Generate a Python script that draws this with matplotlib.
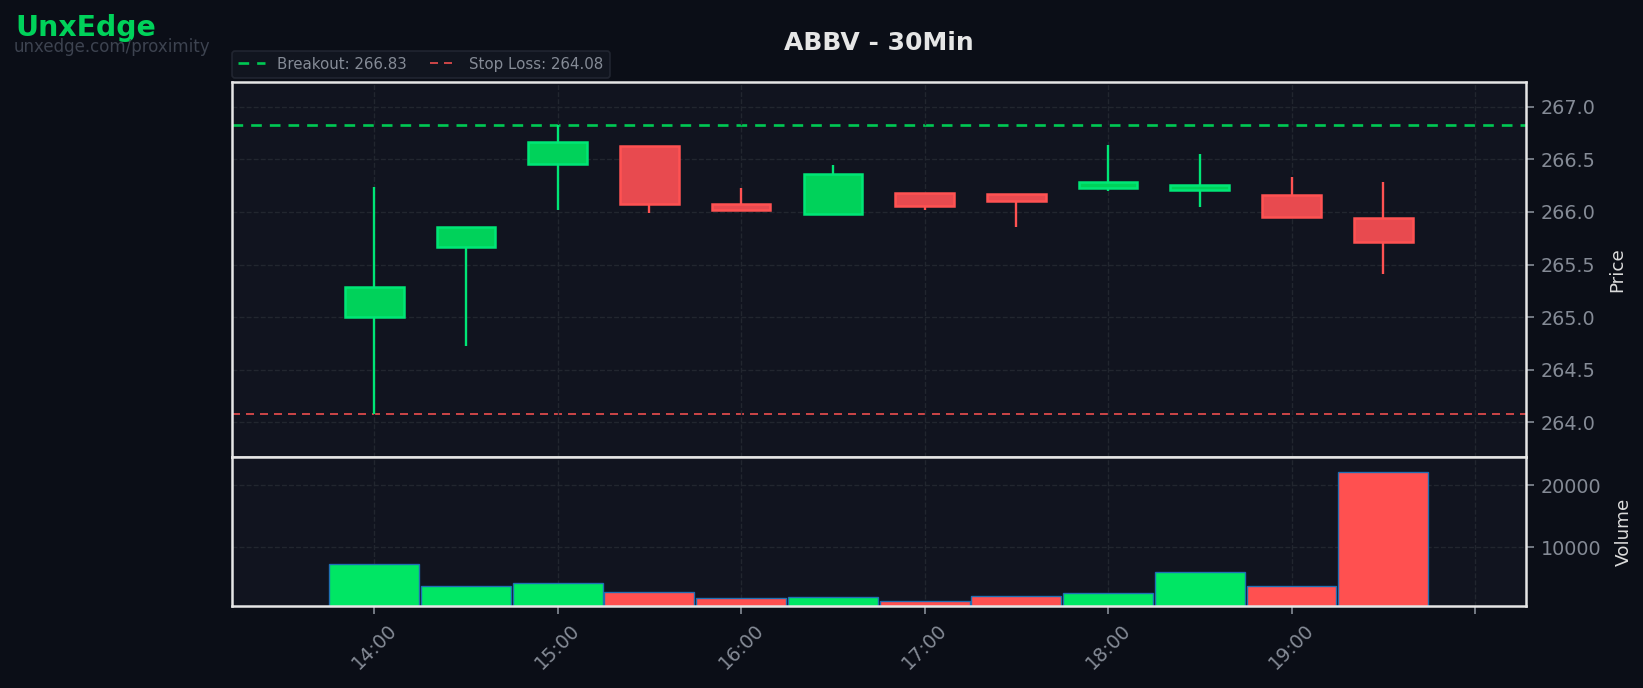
import numpy as np
import matplotlib.pyplot as plt
from matplotlib.patches import Rectangle

# === Data ===
symbol = 'ABBV'
timeframe = '30Min'
times = ['14:00', '14:30', '15:00', '15:30', '16:00', '16:30',
         '17:00', '17:30', '18:00', '18:30', '19:00', '19:30']
opens = [265.00, 265.67, 266.46, 266.63, 266.08, 265.98,
         266.18, 266.17, 266.23, 266.21, 266.165, 265.945]
highs = [266.24, 265.86, 266.83, 266.63, 266.23, 266.45,
         266.18, 266.17, 266.64, 266.55, 266.33, 266.28]
lows = [264.08, 264.73, 266.02, 265.99, 266.01, 265.98,
        266.02, 265.86, 266.20, 266.05, 265.95, 265.41]
closes = [265.29, 265.86, 266.66, 266.08, 266.02, 266.36,
          266.06, 266.10, 266.28, 266.26, 265.95, 265.715]
volumes = [7370, 3660, 4300, 2690, 1720, 1880,
           1240, 2040, 2530, 6075, 3660, 22200]
breakout = 266.83
stop_loss = 264.08
tick_hours = ['14:00', '15:00', '16:00', '17:00', '18:00', '19:00', '20:00']
tick_labels = ['14:00', '15:00', '16:00', '17:00', '18:00', '19:00', '']

BG = '#0b0e17'
PANEL = '#11141f'
GRID = '#22262f'
TXT = '#858b96'
UP_FILL, UP_EDGE = '#00d25a', '#00e676'
DN_FILL, DN_EDGE = '#e84a4f', '#ff5252'
VOL_UP, VOL_DN = '#00e664', '#ff5050'


def to_hours(t):
    h, m = t.split(':')
    return int(h) + int(m) / 60.0


x = np.array([to_hours(t) for t in times])

plt.rcParams['font.family'] = 'DejaVu Sans'
fig = plt.figure(figsize=(1643 / 120, 688 / 120), dpi=120, facecolor=BG)
gs = fig.add_gridspec(2, 1, height_ratios=[2.52, 1], hspace=0,
                      left=0.141, right=0.929, top=0.881, bottom=0.119)
ax = fig.add_subplot(gs[0])
axv = fig.add_subplot(gs[1], sharex=ax)

# --- candles ---
body_w = 0.32
for xi, o, h, l, c in zip(x, opens, highs, lows, closes):
    up = c >= o
    fill = UP_FILL if up else DN_FILL
    edge = UP_EDGE if up else DN_EDGE
    ax.vlines(xi, l, h, color=edge, lw=1.4, zorder=2)
    ax.add_patch(Rectangle((xi - body_w / 2, min(o, c)), body_w, abs(c - o),
                           facecolor=fill, edgecolor=edge, lw=1.5, zorder=3))

ax.axhline(breakout, color='#00c853', ls='--', lw=1.6, dashes=(4, 3),
           label=f'Breakout: {breakout:.2f}', zorder=1)
ax.axhline(stop_loss, color='#c84446', ls='--', lw=1.2, dashes=(4, 3),
           label=f'Stop Loss: {stop_loss:.2f}', zorder=1)

# --- volume ---
vcols = [VOL_UP if c >= o else VOL_DN for o, c in zip(opens, closes)]
axv.bar(x, volumes, width=0.49, color=vcols, edgecolor='#1f6fb4', lw=0.8, zorder=2)

# --- axes styling ---
for a in (ax, axv):
    a.set_facecolor(PANEL)
    a.yaxis.tick_right()
    a.yaxis.set_label_position('right')
    a.tick_params(colors=TXT, labelsize=11.5, length=5, width=1)
    a.grid(True, color=GRID, ls='--', lw=0.8, zorder=0)
    for s in a.spines.values():
        s.set_color('#e6e6e6')
        s.set_linewidth(1.5)

ax.set_xlim(13.223, 20.28)
ax.set_ylim(263.67, 267.236)
ax.set_yticks(np.arange(264.0, 267.01, 0.5))
ax.tick_params(axis='x', bottom=False, labelbottom=False)
ax.set_ylabel('Price', color='#dcdcdc', fontsize=11, labelpad=8)

axv.set_ylim(480, 24570)
axv.set_yticks([10000, 20000])
axv.set_xticks([to_hours(t) for t in tick_hours])
axv.set_xticklabels(tick_labels, rotation=45, ha='center')
axv.set_ylabel('Volume', color='#dcdcdc', fontsize=11, labelpad=8)

leg = ax.legend(loc='lower left', bbox_to_anchor=(0, 1.011), ncol=2,
                fontsize=9, frameon=True, borderaxespad=0, columnspacing=1.6,
                handlelength=1.8)
leg.get_frame().set_facecolor('#131722')
leg.get_frame().set_edgecolor('#262a36')
for t in leg.get_texts():
    t.set_color(TXT)

fig.text(0.535, 0.9375, f'{symbol} - {timeframe}', ha='center', va='center',
         fontsize=15, fontweight='bold', color='#e6e6e6')
fig.text(0.0095, 0.960, 'UnxEdge', ha='left', va='center',
         fontsize=17, fontweight='bold', color='#00d25a')
fig.text(0.0085, 0.931, 'unxedge.com/proximity', ha='left', va='center',
         fontsize=10, color='#3d4350')

fig.savefig('out.png', dpi=120, facecolor=BG)
